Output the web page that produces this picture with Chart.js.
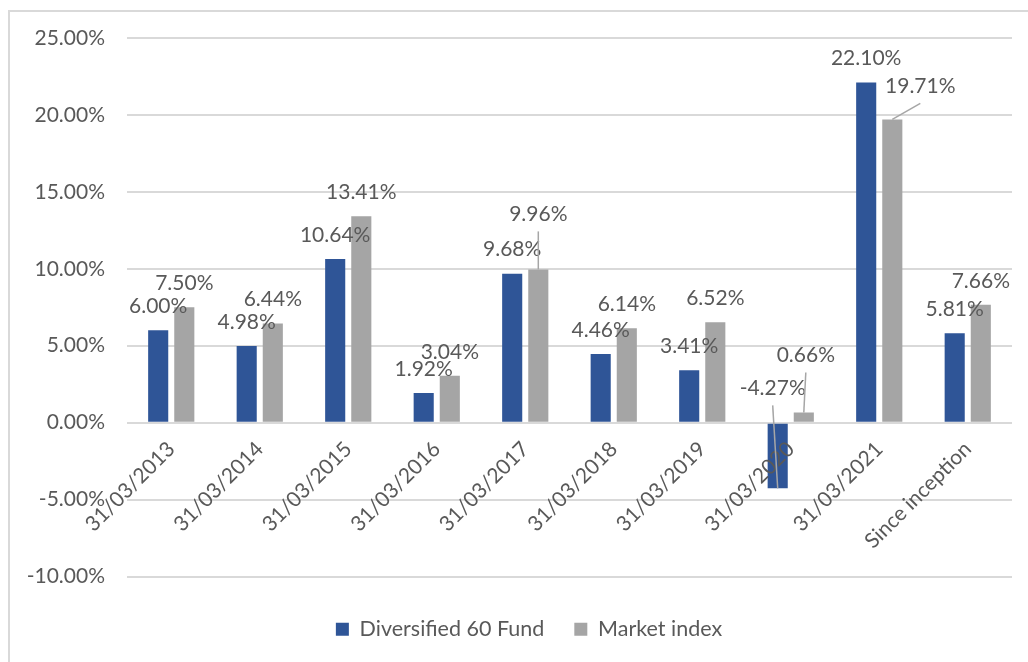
<!DOCTYPE html>
<html>
<head>
<meta charset="utf-8">
<script src="https://cdn.jsdelivr.net/npm/chart.js@4"></script>
<style>
  html, body { margin: 0; padding: 0; background: #fff; }
  #wrap { position: relative; width: 1028px; height: 662px; overflow: hidden; }
  #frame { position: absolute; left: 8px; top: 10px; right: -4px; bottom: -4px;
           border-left: 2px solid #D9D9D9; border-top: 2px solid #D9D9D9; }
  #chart { position: absolute; left: 0; top: 0; }
</style>
</head>
<body>
<div id="wrap">
  <div id="frame"></div>
  <canvas id="chart" width="1028" height="662"></canvas>
</div>
<script>
// Returns per period (%)
const categories = ['31/03/2013', '31/03/2014', '31/03/2015', '31/03/2016', '31/03/2017',
                    '31/03/2018', '31/03/2019', '31/03/2020', '31/03/2021', 'Since inception'];
const fundValues = [6.00, 4.98, 10.64, 1.92, 9.68, 4.46, 3.41, -4.27, 22.10, 5.81];
const indexValues = [7.50, 6.44, 13.41, 3.04, 9.96, 6.14, 6.52, 0.66, 19.71, 7.66];
const seriesNames = ['Diversified 60 Fund', 'Market index'];
const yTicks = [-10, -5, 0, 5, 10, 15, 20, 25];

const FONT = 'Lato';
const SIZE = 21;
const TEXT = '#595959';

// Data labels drawn above each bar; a few were dragged away in the original, with a leader line
const barLabels = {
    id: 'barLabels',
    afterDraw(chart, args, opts) {
        const ctx = chart.ctx;
        ctx.save();
        ctx.font = SIZE + 'px ' + FONT;
        ctx.textAlign = 'center';
        ctx.textBaseline = 'middle';
        chart.data.datasets.forEach((ds, di) => {
            chart.getDatasetMeta(di).data.forEach((bar, i) => {
                const moved = opts.moved.find(m => m.ds === di && m.index === i);
                const x = bar.x + (moved ? moved.dx : 0);
                const y = bar.y + (moved ? moved.dy : opts.gap);
                ctx.fillStyle = TEXT;
                ctx.fillText(ds.data[i].toFixed(2) + '%', x, y);
                if (moved) {
                    ctx.strokeStyle = '#A6A6A6';
                    ctx.lineWidth = 1.5;
                    ctx.beginPath();
                    ctx.moveTo(x, y + 17);
                    ctx.lineTo(bar.x, bar.y);
                    ctx.stroke();
                }
            });
        });
        ctx.restore();
    }
};

// legend is centred under the plot area rather than the whole canvas
const legendShift = {
    id: 'legendShift',
    afterLayout(chart, args, opts) {
        chart.legend.left += opts.dx;
        chart.legend.right += opts.dx;
    }
};

new Chart(document.getElementById('chart').getContext('2d'), {
    type: 'bar',
    data: {
        labels: categories,
        datasets: [
            {
                label: seriesNames[0],
                data: fundValues,
                backgroundColor: '#2F5597',
                categoryPercentage: 0.59,
                barPercentage: 0.77
            },
            {
                label: seriesNames[1],
                data: indexValues,
                backgroundColor: '#A5A5A5',
                categoryPercentage: 0.59,
                barPercentage: 0.77
            }
        ]
    },
    options: {
        responsive: false,
        animation: false,
        layout: { padding: { left: 0, right: 16, top: 38, bottom: 12 } },
        plugins: {
            legend: {
                position: 'bottom',
                title: { display: true, text: '', padding: 0, font: { size: 12, lineHeight: 1 } },
                labels: {
                    font: { family: FONT, size: 21.5 },
                    color: TEXT,
                    boxWidth: 13,
                    boxHeight: 13,
                    padding: 30
                }
            },
            legendShift: { dx: 23 },
            tooltip: { enabled: false },
            barLabels: {
                gap: -24,
                moved: [
                    { ds: 1, index: 4, dx: 0, dy: -55 },
                    { ds: 0, index: 7, dx: -5, dy: -100 },
                    { ds: 1, index: 7, dx: 2, dy: -57 },
                    { ds: 1, index: 8, dx: 28, dy: -33 }
                ]
            }
        },
        scales: {
            x: {
                position: { y: 0 },
                grid: { display: false },
                border: { display: false },
                ticks: {
                    z: 1,
                    font: { family: FONT, size: SIZE },
                    color: TEXT,
                    minRotation: 45,
                    maxRotation: 45,
                    autoSkip: false,
                    padding: 6
                }
            },
            y: {
                min: -10,
                max: 25,
                afterBuildTicks: (s) => { s.ticks = yTicks.map(v => ({ value: v })); },
                afterFit: (s) => { s.width = 127; },
                grid: { color: '#D9D9D9', lineWidth: 2, drawTicks: false },
                border: { display: false },
                ticks: {
                    font: { family: FONT, size: SIZE },
                    color: TEXT,
                    padding: 22,
                    callback: (v) => v.toFixed(2) + '%'
                }
            }
        }
    },
    plugins: [barLabels, legendShift]
});
</script>
</body>
</html>
